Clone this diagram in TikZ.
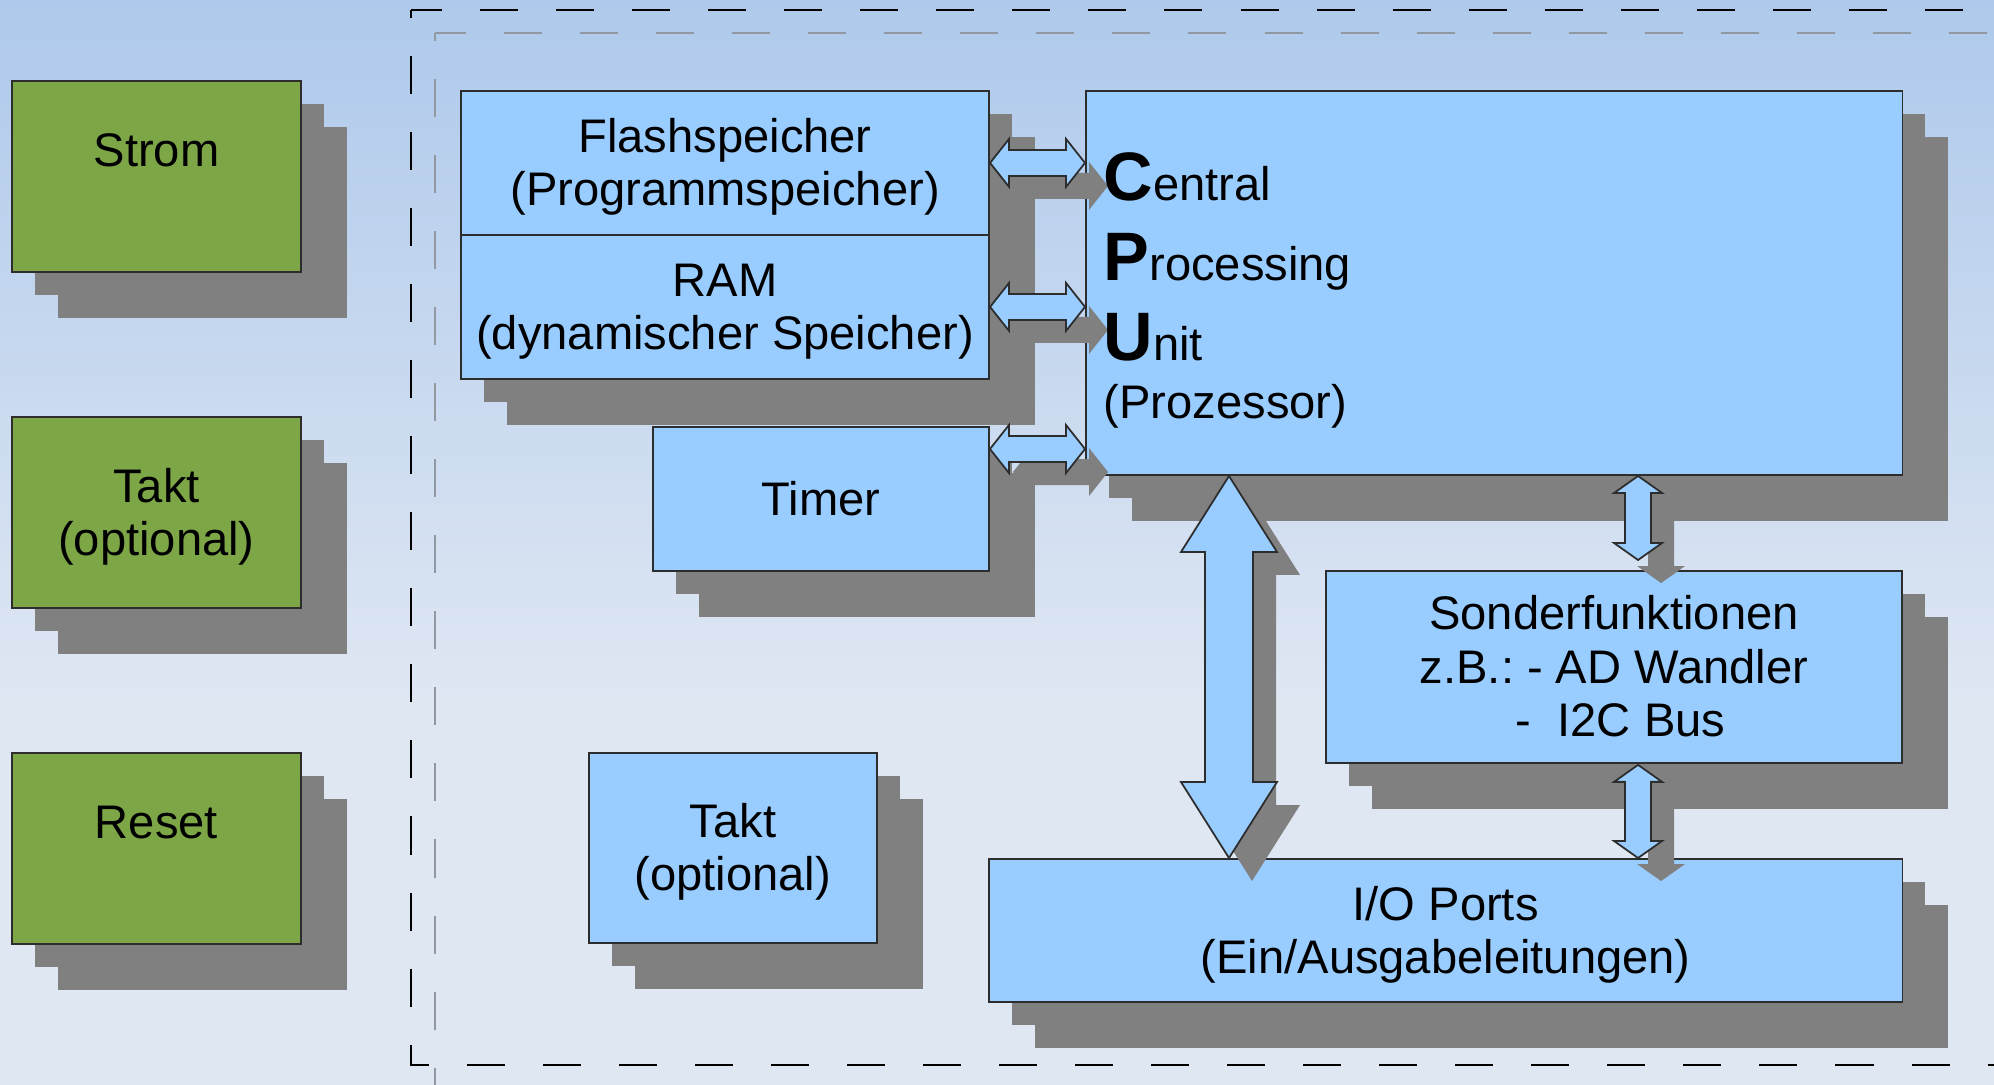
\documentclass[tikz,border=0pt]{standalone}
\usepackage{fontspec}
\setmainfont{Liberation Sans}
\usetikzlibrary{calc, shadows}

\definecolor{bgtop}{RGB}{174,201,235}
\definecolor{bgbot}{RGB}{223,231,243}
\definecolor{sidegreen}{RGB}{125,166,71}
\definecolor{unitblue}{RGB}{153,204,255}
\definecolor{shadowgray}{RGB}{128,128,128}
\definecolor{edgegray}{RGB}{45,45,45}
\definecolor{framegray}{RGB}{145,152,162}

\newcommand{\boxfont}{\fontsize{13.4pt}{15.2pt}\selectfont}
\newcommand{\bigletter}[1]{{\fontsize{19.5pt}{22pt}\selectfont\bfseries #1}}
\newcommand{\lstrut}{\rule[-0.212em]{0pt}{1.117em}}

% bus arrows, tips at both ends: from, to, head half width, head length, shaft half width
\newcommand{\hbus}[5]{%
  \filldraw[busbody] (#1) -- ($(#1)+(#4,-#3)$) -- ($(#1)+(#4,-#5)$) -- ($(#2)+(-#4,-#5)$)
    -- ($(#2)+(-#4,-#3)$) -- (#2) -- ($(#2)+(-#4,#3)$) -- ($(#2)+(-#4,#5)$)
    -- ($(#1)+(#4,#5)$) -- ($(#1)+(#4,#3)$) -- cycle;}
\newcommand{\vbus}[5]{%
  \filldraw[busbody] (#1) -- ($(#1)+(#3,#4)$) -- ($(#1)+(#5,#4)$) -- ($(#2)+(#5,-#4)$)
    -- ($(#2)+(#3,-#4)$) -- (#2) -- ($(#2)+(-#3,-#4)$) -- ($(#2)+(-#5,-#4)$)
    -- ($(#1)+(-#5,#4)$) -- ($(#1)+(-#3,#4)$) -- cycle;}

\begin{document}
\frenchspacing
\begin{tikzpicture}[x=0.01cm, y=-0.01cm,
    droptwo/.style={general shadow={shadow xshift=0.46cm, shadow yshift=-0.46cm, fill=shadowgray},
                    general shadow={shadow xshift=0.23cm, shadow yshift=-0.23cm, fill=shadowgray}},
    dropone/.style={general shadow={shadow xshift=0.23cm, shadow yshift=-0.23cm, fill=shadowgray}},
    unitbox/.style={draw=edgegray, line width=0.5pt, fill=unitblue, droptwo, anchor=north west,
                    inner sep=0pt, align=center, font=\boxfont,
                    execute at begin node=\lstrut, execute at end node=\lstrut},
    sidebox/.style={unitbox, fill=sidegreen, minimum width=2.89cm, minimum height=1.91cm},
    busbody/.style={draw=edgegray, line width=0.5pt, fill=unitblue, line join=miter, dropone},
    cpuline/.style={anchor=base west, inner sep=0pt, font=\boxfont},
    dashframe/.style={line width=0.6pt, dash pattern=on 0.38cm off 0.38cm}]
    \path[use as bounding box] (0,0) rectangle (1994,1085);
    \clip (0,0) rectangle (1994,1085);
    % background
    \fill[top color=bgtop, bottom color=bgbot] (0,0) rectangle (1994,700);
    \fill[bgbot] (0,699) rectangle (1994,1085);
    % chip outline and its shadow
    \foreach \off/\col in {{(24,23)}/framegray, {(0,0)}/black} {
        \draw[dashframe, \col, shift=\off, dash phase=0.07cm] (411,10) -- (2040,10);
        \draw[dashframe, \col, shift=\off, dash phase=0.30cm] (411,10) -- (411,1065) -- (2040,1065);
    }
    % outside the chip
    \node[sidebox] (strom) at (11,80) {\lstrut Strom\\\mbox{}};
    \node[sidebox] (takt) at (11,416) {\lstrut Takt\\(optional)};
    \node[sidebox] (reset) at (11,752) {\lstrut Reset\\\mbox{}};
    % memory and timer
    \node[unitbox, minimum width=5.28cm, minimum height=1.44cm] (flash) at (460,90) {\lstrut Flashspeicher\\(Programmspeicher)};
    \node[unitbox, minimum width=5.28cm, minimum height=1.44cm] (ram) at (460,234) {\lstrut RAM\\(dynamischer Speicher)};
    \node[unitbox, minimum width=3.36cm, minimum height=1.44cm] (timer) at (652,426) {Timer};
    \node[unitbox, minimum width=2.88cm, minimum height=1.90cm] (clock) at (588,752) {\lstrut Takt\\(optional)};
    % processor and periphery
    \node[unitbox, minimum width=8.16cm, minimum height=3.84cm] (cpu) at (1085,90) {};
    \node[unitbox, minimum width=5.76cm, minimum height=1.92cm] (sonder) at (1325,570)
        {\lstrut Sonderfunktionen\\z.B.: - AD Wandler\\\hspace*{0.13cm}-\ \ I2C Bus};
    \node[unitbox, minimum width=9.13cm, minimum height=1.43cm] (io) at (988,858) {\lstrut I/O Ports\\(Ein/Ausgabeleitungen)};
    % bus ends
    \coordinate (flash-cpu) at (flash.east -| cpu.west);
    \coordinate (ram-cpu) at (ram.east -| cpu.west);
    \coordinate (timer-port) at ($(timer.north east)+(0,23)$);
    \coordinate (timer-cpu) at (timer-port -| cpu.west);
    \coordinate (cpu-io) at ($(cpu.south west)+(144,0)$);
    \coordinate (io-cpu) at (cpu-io |- io.north);
    \coordinate (sf-in) at ($(sonder.north)+(24,-10)$);
    \coordinate (cpu-sf) at (sf-in |- cpu.south);
    \coordinate (sf-out) at ($(sonder.south)+(24,1)$);
    \coordinate (io-sf) at (sf-out |- io.north);
    % buses
    \hbus{flash.east}{flash-cpu}{24}{19}{13}
    \hbus{ram.east}{ram-cpu}{24}{19}{13}
    \hbus{timer-port}{timer-cpu}{24}{19}{13}
    \vbus{cpu-io}{io-cpu}{48}{76}{24}
    \vbus{cpu-sf}{sf-in}{24}{17}{13}
    \vbus{sf-out}{io-sf}{24}{17}{13}
    % CPU label
    \node[cpuline] (cpuC) at (1103,201) {\bigletter{C}entral};
    \node[cpuline] (cpuP) at (1103,280) {\bigletter{P}rocessing};
    \node[cpuline] (cpuU) at (1103,360) {\bigletter{U}nit};
    \node[cpuline] (cpuZ) at (1103,418) {(Prozessor)};
\end{tikzpicture}
\end{document}
